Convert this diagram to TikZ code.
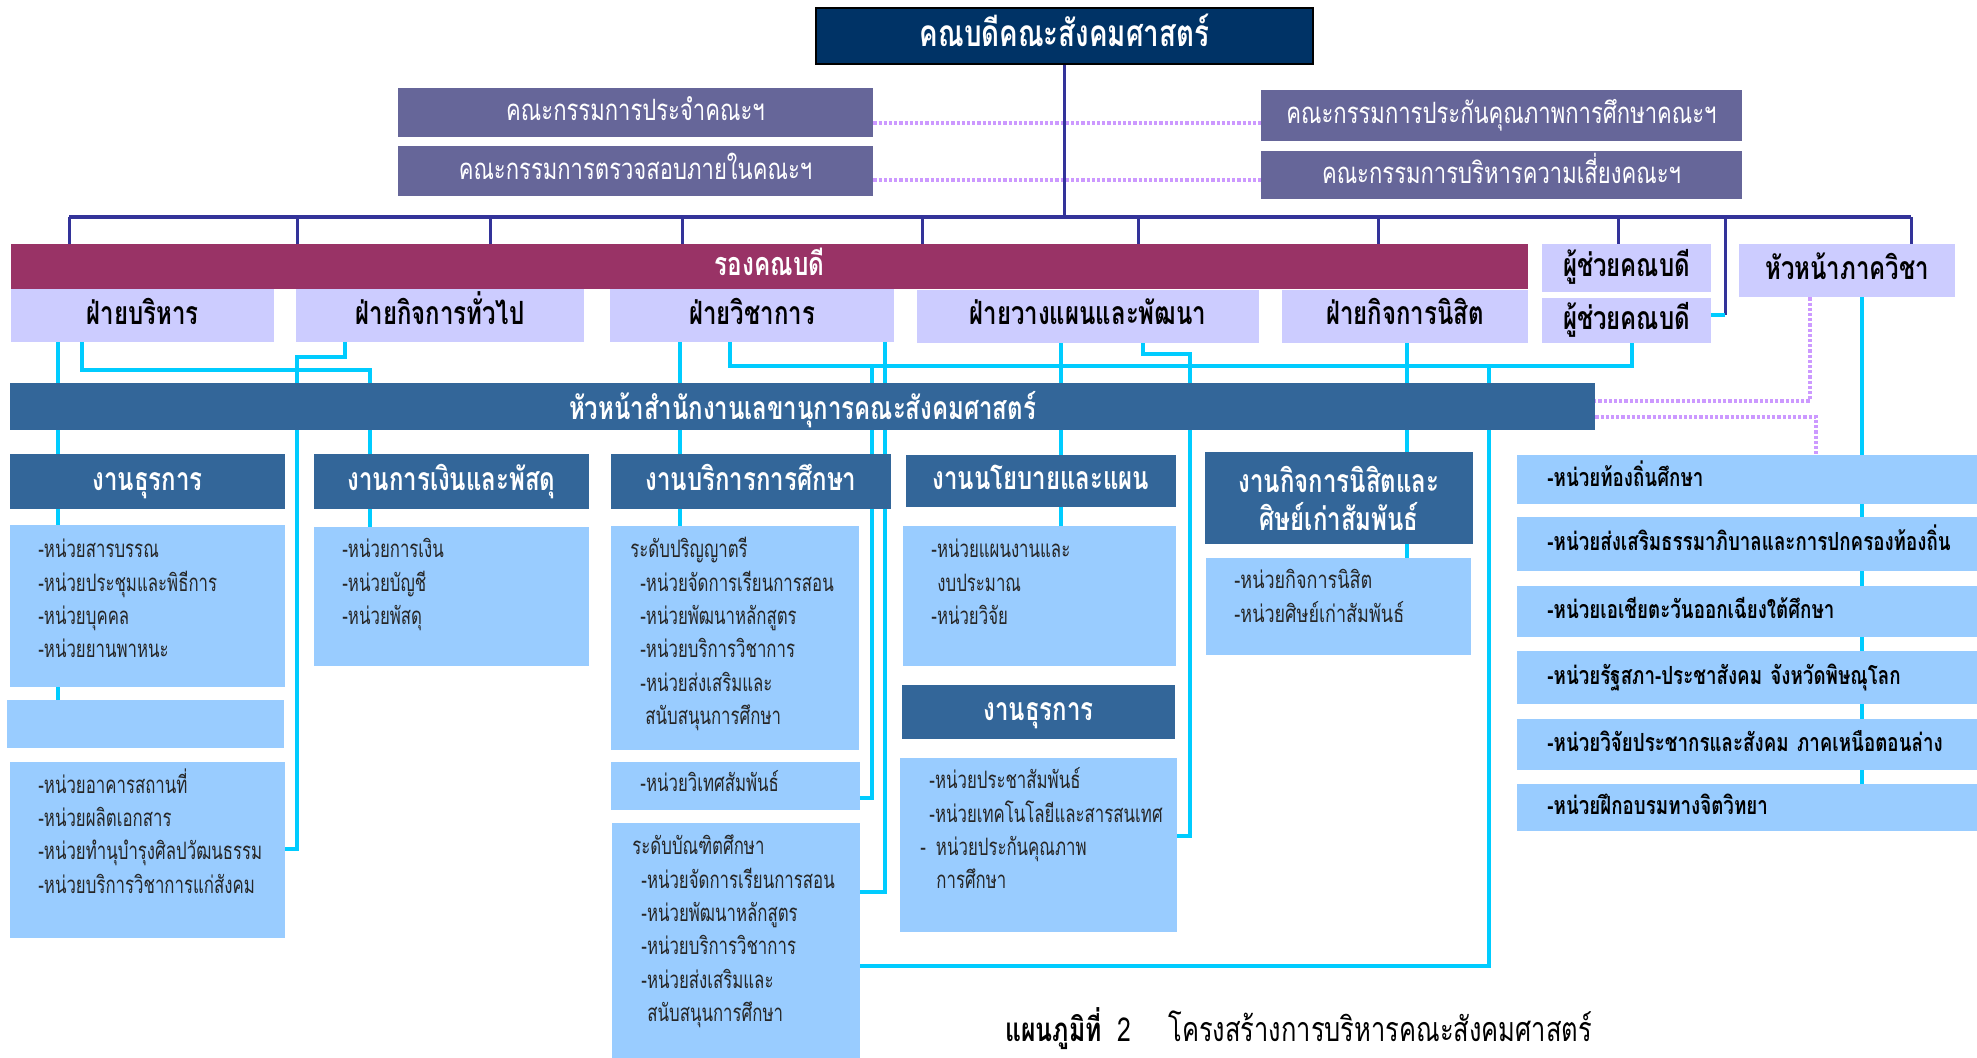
\documentclass[tikz,border=0pt]{standalone}
\usepackage{fontspec}
\newfontfamily\thaifont[Script=Thai,FakeStretch=0.75]{Loma}
\newfontfamily\thailist[Script=Thai,FakeStretch=0.7]{Loma}
\newcommand\tsize[2]{\thaifont\fontsize{#1}{#2}\selectfont}
\usetikzlibrary{backgrounds}
\definecolor{navybox}{HTML}{003366}
\definecolor{committee}{HTML}{666699}
\definecolor{vicebar}{HTML}{993366}
\definecolor{lavender}{HTML}{CCCCFF}
\definecolor{steel}{HTML}{336699}
\definecolor{skybox}{HTML}{99CCFF}
\definecolor{cyanline}{HTML}{00CCFF}
\definecolor{navyline}{HTML}{333399}
\definecolor{dotline}{HTML}{CC99FF}
\begin{document}
\begin{tikzpicture}[x=0.5pt,y=-0.5pt,
  every node/.style={inner sep=0pt},
  wh/.style 2 args={minimum width=#1*0.5pt,minimum height=#2*0.5pt},
  titlebox/.style={fill=navybox,draw=black,line width=1pt,text=white,font={\tsize{18.5pt}{20pt}\bfseries},text height=10.2pt,text depth=0pt},
  combox/.style={fill=committee,text=white,font={\tsize{14.7pt}{17pt}},text height=8.1pt,text depth=0pt},
  vicebox/.style={fill=vicebar,text=white,font={\tsize{16.2pt}{18pt}\bfseries},text height=8.9pt,text depth=0pt},
  lavbox/.style={fill=lavender,text=black,font={\tsize{16pt}{18pt}\bfseries},text height=8.8pt,text depth=0pt},
  secbox/.style={fill=steel,text=white,font={\tsize{16pt}{18pt}\bfseries},text height=13.3pt,text depth=0pt},
  headbox/.style={fill=steel,text=white,font={\tsize{16pt}{18pt}\bfseries},text height=8.8pt,text depth=0pt},
  headboxtwo/.style={fill=steel,text=white,align=center,font={\tsize{16pt}{19pt}\bfseries}},
  listbox/.style={fill=skybox},
  listtext/.style={anchor=north west,align=left,text=black!85,font={\thailist\fontsize{12pt}{16.7pt}\selectfont}},
  stutext/.style={anchor=north west,align=left,text=black!85,font={\tsize{12pt}{16.7pt}}},
  unitbox/.style={fill=skybox,anchor=west,align=left,inner xsep=15pt,text width=220pt,font={\tsize{12.5pt}{14pt}\bfseries},text height=6.9pt,text depth=0pt},
  navyconn/.style={draw=navyline,line width=1.5pt},
  navybar/.style={draw=navyline,line width=2.2pt},
  cyanconn/.style={draw=cyanline,line width=1.8pt},
  dotconn/.style={draw=dotline,line width=2.2pt,dash pattern=on 1.6pt off 1pt}]
\useasboundingbox (0,0) rectangle (1977,1057);
% top
\node[titlebox,wh={497}{56}] (title) at (1064.5,36) {คณบดีคณะสังคมศาสตร์};
\node[combox,wh={475}{49}] (comA) at (635.5,112.5) {คณะกรรมการประจำคณะฯ};
\node[combox,wh={475}{50}] (comB) at (635.5,171) {คณะกรรมการตรวจสอบภายในคณะฯ};
\node[combox,wh={481}{51}] (comC) at (1501.5,115.5) {คณะกรรมการประกันคุณภาพการศึกษาคณะฯ};
\node[combox,wh={481}{48}] (comD) at (1501.5,175) {คณะกรรมการบริหารความเสี่ยงคณะฯ};
% รองคณบดี
\node[vicebox,wh={1517}{45}] (vice) at (769.5,266.5) {รองคณบดี};
\node[lavbox,wh={169}{48}] (asst1) at (1626.5,268) {ผู้ช่วยคณบดี};
\node[lavbox,wh={169}{45}] (asst2) at (1626.5,320.5) {ผู้ช่วยคณบดี};
\node[lavbox,wh={216}{53}] (head) at (1847,270.5) {หัวหน้าภาควิชา};
\node[lavbox,wh={263}{53}] (fbor) at (142.5,315.5) {ฝ่ายบริหาร};
\node[lavbox,wh={288}{53}] (fgen) at (440,315.5) {ฝ่ายกิจการทั่วไป};
\node[lavbox,wh={284}{53}] (facad) at (752,315.5) {ฝ่ายวิชาการ};
\node[lavbox,wh={342}{53}] (fplan) at (1088,316) {ฝ่ายวางแผนและพัฒนา};
\node[lavbox,wh={246}{53}] (fstud) at (1405,316) {ฝ่ายกิจการนิสิต};
\node[secbox,wh={1585}{47}] (sec) at (802.5,406.5) {หัวหน้าสำนักงานเลขานุการคณะสังคมศาสตร์};
% งาน
\node[headbox,wh={275}{55}] (hadm) at (147.5,481.5) {งานธุรการ};
\node[headbox,wh={275}{55}] (hfin) at (451.5,481.5) {งานการเงินและพัสดุ};
\node[headbox,wh={280}{55}] (hedu) at (751,481.5) {งานบริการการศึกษา};
\node[headbox,wh={270}{52}] (hpol) at (1041,481) {งานนโยบายและแผน};
\node[headboxtwo,wh={268}{92}] (hstu) at (1339,498) {งานกิจการนิสิตและ\\ศิษย์เก่าสัมพันธ์};
\node[headbox,wh={273}{54}] (hgen) at (1038.5,712) {งานธุรการ};
% หน่วย
\node[listbox,wh={275}{162}] (ladm1) at (147.5,606) {};
\node[listbox,wh={277}{48}] (ladmE) at (145.5,724) {};
\node[listbox,wh={275}{176}] (ladm2) at (147.5,850) {};
\node[listbox,wh={275}{139}] (lfin) at (451.5,596.5) {};
\node[listbox,wh={248}{224}] (ledu1) at (735,638) {};
\node[listbox,wh={249}{48}] (ledu2) at (735.5,786) {};
\node[listbox,wh={248}{237}] (ledu3) at (736,941.5) {};
\node[listbox,wh={273}{140}] (lpol) at (1039.5,596) {};
\node[listbox,wh={277}{174}] (lgen) at (1038.5,845) {};
\node[listbox,wh={265}{97}] (lstu) at (1338.5,606.5) {};
\node[listtext] (tadm1) at (38,534) {\strut-หน่วยสารบรรณ\\-หน่วยประชุมและพิธีการ\\-หน่วยบุคคล\\-หน่วยยานพาหนะ};
\node[listtext] (tadm2) at (38,768) {\strut-หน่วยอาคารสถานที่\\-หน่วยผลิตเอกสาร\\-หน่วยทำนุบำรุงศิลปวัฒนธรรม\\-หน่วยบริการวิชาการแก่สังคม};
\node[listtext] (tfin) at (342,534) {\strut-หน่วยการเงิน\\-หน่วยบัญชี\\-หน่วยพัสดุ};
\node[listtext] (tedu1) at (630,534) {\strut ระดับปริญญาตรี\\\hspace*{5pt}-หน่วยจัดการเรียนการสอน\\\hspace*{5pt}-หน่วยพัฒนาหลักสูตร\\\hspace*{5pt}-หน่วยบริการวิชาการ\\\hspace*{5pt}-หน่วยส่งเสริมและ\\\hspace*{7.5pt}สนับสนุนการศึกษา};
\node[listtext] (tedu2) at (640,768) {\strut-หน่วยวิเทศสัมพันธ์};
\node[listtext] (tedu3) at (632,831) {\strut ระดับบัณฑิตศึกษา\\\hspace*{4.5pt}-หน่วยจัดการเรียนการสอน\\\hspace*{4.5pt}-หน่วยพัฒนาหลักสูตร\\\hspace*{4.5pt}-หน่วยบริการวิชาการ\\\hspace*{4.5pt}-หน่วยส่งเสริมและ\\\hspace*{7.5pt}สนับสนุนการศึกษา};
\node[listtext] (tpol) at (931,534) {\strut-หน่วยแผนงานและ\\\hspace*{3pt}งบประมาณ\\-หน่วยวิจัย};
\node[listtext] (tgen) at (920,765) {\strut\hspace*{4.5pt}-หน่วยประชาสัมพันธ์\\\hspace*{4.5pt}-หน่วยเทคโนโลยีและสารสนเทศ\\-\hspace*{5pt}หน่วยประกันคุณภาพ\\\hspace*{8pt}การศึกษา};
\node[stutext] (tstu) at (1234,565) {\strut-หน่วยกิจการนิสิต\\-หน่วยศิษย์เก่าสัมพันธ์};
\node[unitbox,wh={480}{49}] (u1) at (1517,479.5) {-หน่วยท้องถิ่นศึกษา};
\node[unitbox,wh={480}{54}] (u2) at (1517,544) {-หน่วยส่งเสริมธรรมาภิบาลและการปกครองท้องถิ่น};
\node[unitbox,wh={480}{51}] (u3) at (1517,611.5) {-หน่วยเอเชียตะวันออกเฉียงใต้ศึกษา};
\node[unitbox,wh={480}{53}] (u4) at (1517,677.5) {-หน่วยรัฐสภา-ประชาสังคม จังหวัดพิษณุโลก};
\node[unitbox,wh={480}{51}] (u5) at (1517,744.5) {-หน่วยวิจัยประชากรและสังคม ภาคเหนือตอนล่าง};
\node[unitbox,wh={480}{47}] (u6) at (1517,807.5) {-หน่วยฝึกอบรมทางจิตวิทยา};
% caption
\node[anchor=base west,font={\tsize{16.5pt}{18pt}}] (capnum) at (1005,1041) {{\bfseries แผนภูมิที่}\hspace{8pt}2};
\node[anchor=base west,font={\tsize{17pt}{19pt}}] (captext) at (1168,1041) {โครงสร้างการบริหารคณะสังคมศาสตร์};
\begin{scope}[on background layer]
\fill[white] (0,0) rectangle (1977,1057);
\draw[dotconn] (comA.east |- 0,123) -- (comC.west |- 0,123);
\draw[dotconn] (comB.east |- 0,180) -- (comD.west |- 0,180);
\draw[dotconn] (head.south -| 1810,0) |- (sec.east |- 0,401);
\draw[dotconn] (sec.east |- 0,417) -| (u1.north -| 1816,0);
\coordinate (jL) at (69,217);
\coordinate (jR) at (1911,217);
\draw[navyconn] (title.south) -- (title.south |- jL);
\draw[navybar] (jL) -- (jR);
\foreach \x in {69,297,490,682,922,1138,1378}
  \draw[navyconn] (\x,217) -- (vice.north -| \x,0);
\draw[navyconn] (1618,217) -- (asst1.north -| 1618,0);
\draw[navyconn] (1725,217) -- (1725,315);
\draw[cyanconn] (1725,315) -- (asst2.east |- 0,315);
\draw[navyconn] (jR) -- (head.north -| jR);
% ฝ่าย -> งาน
\draw[cyanconn] (fbor.south -| 58,0) -- (ladmE.north -| 58,0);
\draw[cyanconn] (fbor.south -| 82,0) |- (370,370) -- (lfin.north -| 370,0);
\draw[cyanconn] (fgen.south -| 345,0) |- (297,357) |- (ladm2.east |- 0,849);
\draw[cyanconn] (facad.south -| 680,0) -- (ledu1.north -| 680,0);
\draw[cyanconn] (facad.south -| 730,0) |- (1632,366) -- (asst2.south -| 1632,0);
\draw[cyanconn] (872,366) |- (ledu2.east |- 0,798);
\draw[cyanconn] (facad.south -| 885,0) |- (ledu3.east |- 0,892);
\draw[cyanconn] (fplan.south -| 1061,0) -- (lpol.north -| 1061,0);
\draw[cyanconn] (fplan.south -| 1143,0) |- (1190,354) |- (lgen.east |- 0,836);
\draw[cyanconn] (fstud.south -| 1407,0) -- (lstu.north -| 1407,0);
\draw[cyanconn] (1489,366) |- (ledu3.east |- 0,966);
\draw[cyanconn] (head.south -| 1862,0) -- (u6.north -| 1862,0);
\end{scope}
\end{tikzpicture}
\end{document}
